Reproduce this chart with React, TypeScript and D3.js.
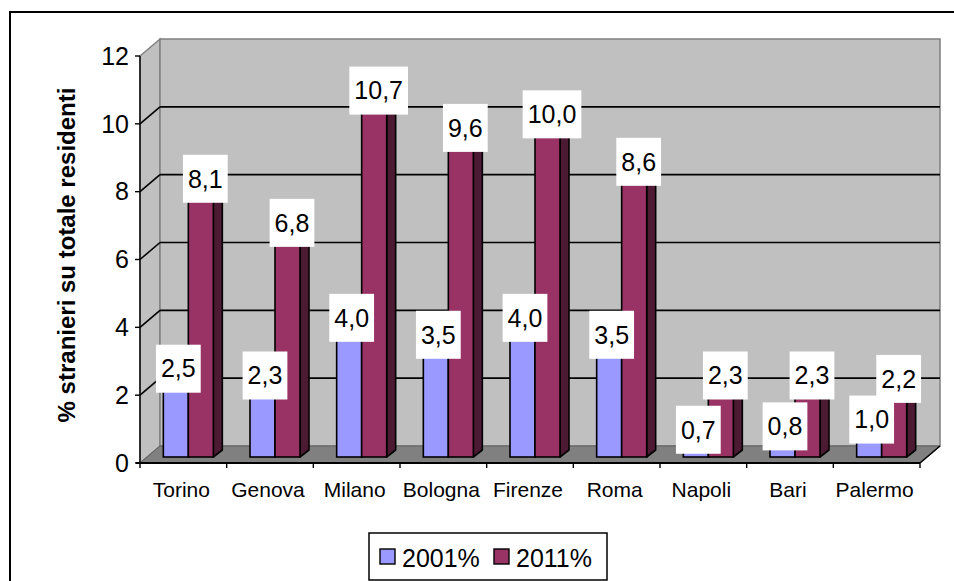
import React, { useEffect, useRef } from "react";
import * as d3 from "d3";

const categories = ["Torino", "Genova", "Milano", "Bologna", "Firenze", "Roma", "Napoli", "Bari", "Palermo"];
const values2001 = [2.5, 2.3, 4.0, 3.5, 4.0, 3.5, 0.7, 0.8, 1.0];
const values2011 = [8.1, 6.8, 10.7, 9.6, 10.0, 8.6, 2.3, 2.3, 2.2];
const seriesNames = ["2001%", "2011%"];
const yTicks = [0, 2, 4, 6, 8, 10, 12];
const yTitle = "% stranieri su totale residenti";

const W = 954;
const H = 581;
const FONT = "'Liberation Sans', Arial, sans-serif";

export default function App() {
  const ref = useRef<SVGSVGElement | null>(null);

  useEffect(() => {
    const svg = d3.select(ref.current);
    svg.selectAll("*").remove();

    const colors = ["#9999FF", "#993366"];
    const sideColors = ["#4C4C80", "#4D1A33"];
    const topColors = ["#7A7ACC", "#7A2952"];

    const x0 = 140, x1 = 920;
    const depthX = 20, depthY = -17;
    const yF = d3.scaleLinear().domain([0, 12]).range([463, 56]);
    const yB = (v: number) => yF(v) + depthY;
    const xBand = d3.scaleBand<string>().domain(categories).range([x0, x1]).paddingInner(0).paddingOuter(0);
    const barShiftX = 5, barShiftY = -6;
    const barW = 25;
    const bdx = 9, bdy = -7;
    const yBar = (v: number) => yF(v) + barShiftY;
    const SW = 1.6;

    svg.append("rect").attr("x", 10).attr("y", 12).attr("width", 980).attr("height", 620)
      .attr("fill", "white").attr("stroke", "black").attr("stroke-width", 2);

    svg.append("polygon")
      .attr("points", [[x0, yF(12)], [x0 + depthX, yB(12)], [x0 + depthX, yB(0)], [x0, yF(0)]].map(p => p.join(",")).join(" "))
      .attr("fill", "#C0C0C0").attr("stroke", "#808080").attr("stroke-width", 1.5);
    svg.append("rect").attr("x", x0 + depthX).attr("y", yB(12)).attr("width", x1 - x0).attr("height", yB(0) - yB(12))
      .attr("fill", "#C0C0C0").attr("stroke", "#808080").attr("stroke-width", 1.5);
    svg.append("polygon")
      .attr("points", [[x0, yF(0)], [x0 + depthX, yB(0)], [x1 + depthX, yB(0)], [x1, yF(0)]].map(p => p.join(",")).join(" "))
      .attr("fill", "#808080").attr("stroke", "#606060");

    const grid = svg.append("g").attr("stroke", "black").attr("stroke-width", SW).attr("fill", "none");
    yTicks.filter(t => t > 0 && t < 12).forEach(t => {
      grid.append("line").attr("x1", x0).attr("y1", yF(t)).attr("x2", x0 + depthX).attr("y2", yB(t));
      grid.append("line").attr("x1", x0 + depthX).attr("y1", yB(t)).attr("x2", x1 + depthX).attr("y2", yB(t));
    });

    svg.append("line").attr("x1", x1).attr("y1", yF(0)).attr("x2", x1 + depthX).attr("y2", yB(0))
      .attr("stroke", "black").attr("stroke-width", SW);

    const fmt = (v: number) => d3.format(".1f")(v).replace(".", ",");
    const seriesVals = [values2001, values2011];
    const bars = svg.append("g");
    categories.forEach((c, i) => {
      const start = (xBand(c) as number) + barShiftX + (xBand.bandwidth() - 2 * barW) / 2;
      seriesVals.forEach((vals, s) => {
        const v = vals[i];
        const bx = start + s * barW;
        const yt = yBar(v), yb = yBar(0);
        bars.append("polygon")
          .attr("points", [[bx + barW, yt], [bx + barW + bdx, yt + bdy], [bx + barW + bdx, yb + bdy], [bx + barW, yb]].map(p => p.join(",")).join(" "))
          .attr("fill", sideColors[s]).attr("stroke", "black").attr("stroke-width", SW).attr("stroke-linejoin", "round");
        bars.append("polygon")
          .attr("points", [[bx, yt], [bx + bdx, yt + bdy], [bx + barW + bdx, yt + bdy], [bx + barW, yt]].map(p => p.join(",")).join(" "))
          .attr("fill", topColors[s]).attr("stroke", "black").attr("stroke-width", SW);
        bars.append("rect").attr("x", bx).attr("y", yt).attr("width", barW).attr("height", yb - yt)
          .attr("fill", colors[s]).attr("stroke", "black").attr("stroke-width", SW);
      });
    });

    svg.append("line").attr("x1", x0).attr("y1", yF(12)).attr("x2", x0).attr("y2", yF(0))
      .attr("stroke", "black").attr("stroke-width", 1.4);
    svg.append("line").attr("x1", x0 - 4).attr("y1", yF(0)).attr("x2", x1).attr("y2", yF(0))
      .attr("stroke", "black").attr("stroke-width", 1.8);

    yTicks.forEach(t => {
      svg.append("line").attr("x1", x0 - 5).attr("y1", yF(t)).attr("x2", x0).attr("y2", yF(t))
        .attr("stroke", "black").attr("stroke-width", 1.4);
      svg.append("text").attr("x", x0 - 11).attr("y", yF(t)).attr("dy", "0.35em")
        .attr("text-anchor", "end").attr("font-family", FONT).attr("font-size", 25).text(String(t));
    });

    categories.forEach((c, i) => {
      const xs = xBand(c) as number;
      svg.append("line").attr("x1", xs).attr("y1", yF(0)).attr("x2", xs).attr("y2", yF(0) + 5)
        .attr("stroke", "black").attr("stroke-width", 1.4);
      if (i === categories.length - 1) {
        svg.append("line").attr("x1", x1).attr("y1", yF(0)).attr("x2", x1).attr("y2", yF(0) + 5)
          .attr("stroke", "black").attr("stroke-width", 1.4);
      }
      svg.append("text").attr("x", xs + xBand.bandwidth() / 2 - 2).attr("y", 497)
        .attr("text-anchor", "middle").attr("font-family", FONT).attr("font-size", 21).text(c);
    });

    const labels = svg.append("g");
    categories.forEach((c, i) => {
      const start = (xBand(c) as number) + barShiftX + (xBand.bandwidth() - 2 * barW) / 2;
      seriesVals.forEach((vals, s) => {
        const v = vals[i];
        const bx = start + s * barW;
        const cx = bx + barW / 2 + (s === 0 ? 2.5 : 4.5);
        const cy = yBar(v) + bdy / 2;
        const g = labels.append("g");
        const rect = g.append("rect").attr("fill", "white");
        const txt = g.append("text").attr("x", cx).attr("y", cy).attr("dy", "0.35em")
          .attr("text-anchor", "middle").attr("font-family", FONT).attr("font-size", 25).text(fmt(v));
        const bb = (txt.node() as SVGTextElement).getBBox();
        const w = bb.width + 10;
        rect.attr("x", cx - w / 2).attr("y", cy - 24).attr("width", w).attr("height", 48);
      });
    });

    svg.append("text")
      .attr("transform", `translate(75,255) rotate(-90)`)
      .attr("text-anchor", "middle").attr("font-family", FONT).attr("font-size", 24).attr("font-weight", "bold")
      .text(yTitle);

    const lg = svg.append("g");
    lg.append("rect").attr("x", 369).attr("y", 533).attr("width", 238).attr("height", 47)
      .attr("fill", "white").attr("stroke", "black").attr("stroke-width", 1.5);
    const legX = [380, 494];
    seriesNames.forEach((n, s) => {
      lg.append("rect").attr("x", legX[s]).attr("y", 549).attr("width", 15).attr("height", 15)
        .attr("fill", colors[s]).attr("stroke", "black").attr("stroke-width", 1.4);
      lg.append("text").attr("x", legX[s] + 22).attr("y", 558).attr("dy", "0.35em")
        .attr("font-family", FONT).attr("font-size", 25).text(n);
    });
  }, []);

  return (
    <svg ref={ref} width={W} height={H} style={{ position: "absolute", left: 0, top: 0, background: "white" }} />
  );
}
